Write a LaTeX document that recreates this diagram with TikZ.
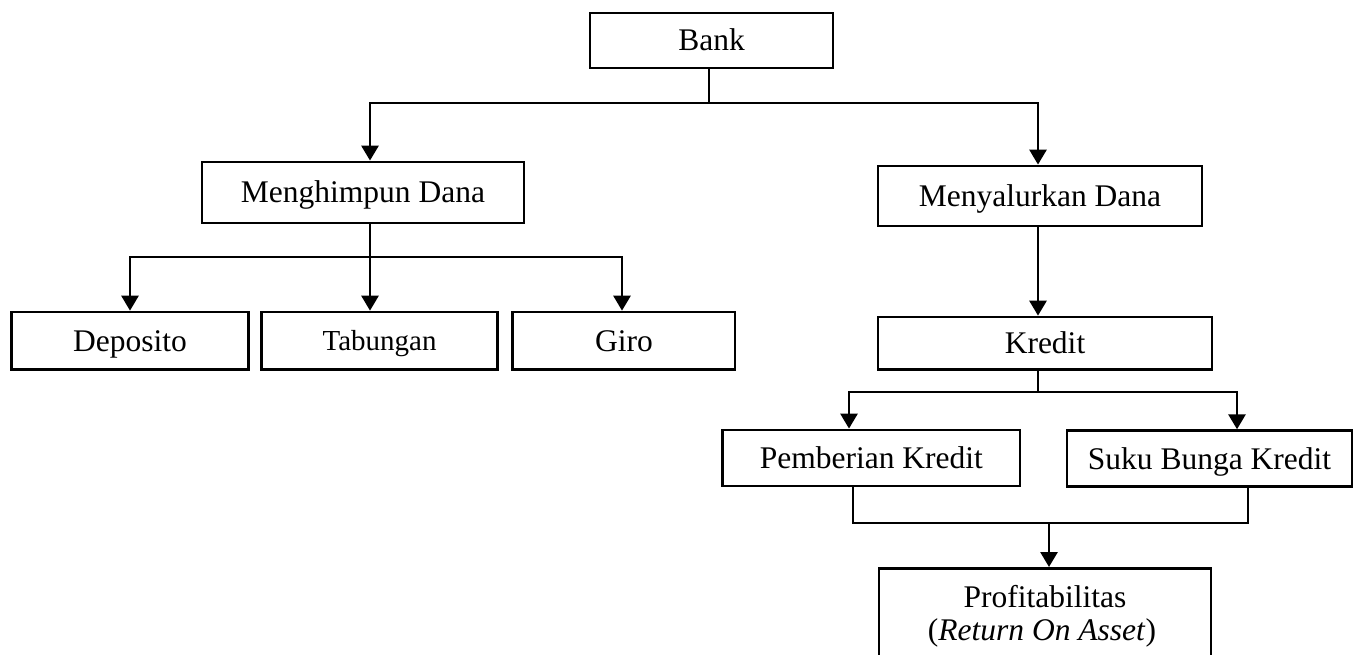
\documentclass[tikz,border=0pt]{standalone}
\usepackage{fontspec}
\setmainfont{Liberation Serif}
\usetikzlibrary{arrows.meta}
\begin{document}
\begin{tikzpicture}[x=1pt,y=-1pt,
  box/.style={draw, line width=2.8pt, rectangle, inner sep=0pt, text height=21pt, text depth=0pt, font=\fontsize{31.5}{34}\selectfont},
  conn/.style={line width=2.8pt},
  arr/.style={conn, -{Triangle[width=17pt,length=15pt]}},
  lbl/.style={font=\fontsize{31.5}{33}\selectfont, inner sep=0pt, anchor=base}
]
\useasboundingbox (0,0) rectangle (1354,655);

\node[box, minimum width=243pt, minimum height=55pt] (bank) at (711.5,40.5) {Bank};
\node[box, minimum width=322pt, minimum height=61pt] (mhd) at (363,192.5) {Menghimpun Dana};
\node[box, minimum width=324pt, minimum height=60pt] (myd) at (1040,196) {Menyalurkan Dana};
\node[box, minimum width=236.6pt, minimum height=57.3pt] (dep) at (130,340.7) {Deposito};
\node[box, minimum width=235.6pt, minimum height=57.3pt, text height=19.3pt, font=\fontsize{29}{31}\selectfont] (tab) at (379.5,340.7) {Tabungan};
\node[box, minimum width=222.3pt, minimum height=57.3pt] (giro) at (623.9,340.7) {Giro};
\node[box, minimum width=334pt, minimum height=52.3pt] (kredit) at (1045,343.2) {Kredit};
\node[box, minimum width=297.3pt, minimum height=56pt] (pk) at (871.4,458) {Pemberian Kredit};
\node[box, minimum width=285pt, minimum height=56pt] (sbk) at (1209.5,458.7) {Suku Bunga Kredit};
\node[box, minimum width=332pt, minimum height=140pt, anchor=north] (prof) at (1045,567) {};
\node[lbl] (proft) at (1045,607) {Profitabilitas};
\node[lbl] (profs) at (1042,640) {(\textit{Return On Asset})};

% Bank level
\coordinate (bs) at (709,103);
\coordinate (b1) at (370,103);
\coordinate (b2) at (1038,103);
\draw[conn] (bank.south -| bs) -- (bs);
\draw[arr] (bs) -| (b1 |- mhd.north);
\draw[arr] (bs) -| (b2 |- myd.north);

% Menghimpun Dana
\coordinate (m0) at (370,257);
\coordinate (m1) at (130,257);
\coordinate (m2) at (622,257);
\draw[arr] (mhd.south -| m0) -- (m0 |- tab.north);
\draw[arr] (m0) -| (m1 |- dep.north);
\draw[arr] (m0) -| (m2 |- giro.north);

% Menyalurkan Dana -> Kredit
\draw[arr] (myd.south -| b2) -- (b2 |- kredit.north);

% Kredit
\coordinate (k0) at (1038,392);
\coordinate (k1) at (849,392);
\coordinate (k2) at (1237,392);
\draw[conn] (kredit.south -| k0) -- (k0);
\draw[arr] (k0) -| (k1 |- pk.north);
\draw[arr] (k0) -| (k2 |- sbk.north);

% to Profitabilitas
\coordinate (p1) at (853,523);
\coordinate (p2) at (1248,523);
\coordinate (p0) at (1049,523);
\draw[conn] (pk.south -| p1) |- (p2) -- (sbk.south -| p2);
\draw[arr] (p0) -- (p0 |- prof.north);
\end{tikzpicture}
\end{document}
